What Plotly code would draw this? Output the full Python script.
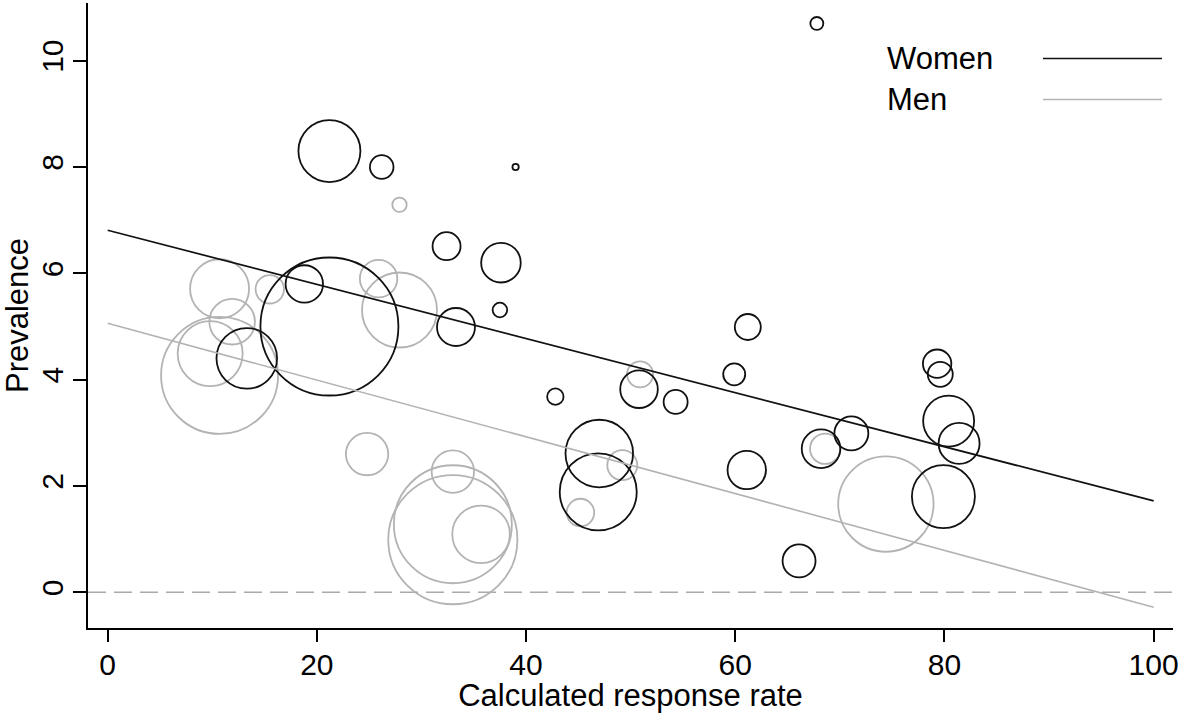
import plotly.graph_objects as go

# Study-level prevalence (%) by calculated response rate (%); circle area ~ study weight
women_rate = [21.2, 26.2, 39.0, 67.8, 32.4, 37.6, 37.5, 33.3, 18.8, 21.2, 13.3, 42.8, 50.8, 54.3,
              59.9, 61.2, 47.0, 46.9, 61.1, 66.1, 68.2, 71.1, 79.3, 79.6, 80.4, 81.4, 79.9]
women_prev = [8.30, 8.00, 8.00, 10.70, 6.51, 6.20, 5.31, 4.99, 5.80, 5.00, 4.40, 3.68, 3.82, 3.58,
              4.10, 4.99, 2.61, 1.89, 2.30, 0.59, 2.70, 2.99, 4.30, 4.10, 3.22, 2.80, 1.80]
women_weight = [961, 139, 10, 42, 196, 392, 53, 361, 350, 4761, 918, 67, 353, 144,
                121, 169, 1142, 1482, 369, 272, 372, 289, 202, 156, 650, 420, 992]

men_rate = [27.9, 10.7, 15.5, 11.9, 25.9, 27.9, 9.8, 10.7, 24.8, 33.0, 33.0, 33.0, 35.7,
            45.2, 49.2, 50.9, 68.6, 74.4]
men_prev = [7.29, 5.71, 5.70, 5.09, 5.90, 5.31, 4.49, 4.08, 2.60, 2.27, 1.28, 0.99, 1.09,
            1.50, 2.39, 4.10, 2.70, 1.66]
men_weight = [52, 870, 202, 520, 350, 1406, 1056, 3422, 449, 449, 3481, 4173, 829,
              190, 225, 169, 231, 2275]

# Fitted regression lines at the ends of the response-rate scale
fit_rate = [0, 100]
women_fit = [6.81, 1.72]
men_fit = [5.06, -0.28]

x_ticks = [0, 20, 40, 60, 80, 100]
y_ticks = [0, 2, 4, 6, 8, 10]

BLACK = "#111111"
GREY = "#b3b3b3"
FONT = "Liberation Sans, Arial, sans-serif"

fig = go.Figure()


def bubbles(x, y, w, colour):
    # sizemode "area": circle radius = sqrt(w / (2 * sizeref)) pixels
    return go.Scatter(
        x=x, y=y, mode="markers", showlegend=False, hoverinfo="skip",
        marker=dict(size=w, sizemode="area", sizeref=0.5, symbol="circle", opacity=1,
                    color="rgba(0,0,0,0)", line=dict(color=colour, width=1.8)),
    )


fig.add_trace(bubbles(men_rate, men_prev, men_weight, GREY))
fig.add_trace(bubbles(women_rate, women_prev, women_weight, BLACK))

fig.add_trace(go.Scatter(x=fit_rate, y=women_fit, mode="lines", showlegend=False,
                         line=dict(color=BLACK, width=1.7)))
fig.add_trace(go.Scatter(x=fit_rate, y=men_fit, mode="lines", showlegend=False,
                         line=dict(color=GREY, width=1.6)))

fig.add_hline(y=0, line=dict(color="#aaaaaa", width=1.6, dash="18px,8px"), layer="below")

# Legend: label on the left, line sample on the right
legend_items = [("Women", BLACK), ("Men", GREY)]
for i, (label, colour) in enumerate(legend_items):
    yc = 1 - (58.5 + 41 * i - 3) / 625
    fig.add_annotation(text=label, xref="paper", yref="paper", x=(885 - 88) / 1085, y=yc,
                       xanchor="left", yanchor="middle", showarrow=False,
                       font=dict(family=FONT, size=31, color="black"))
    fig.add_shape(type="line", xref="paper", yref="paper",
                  x0=(1043 - 88) / 1085, x1=(1162 - 88) / 1085, y0=yc, y1=yc,
                  line=dict(color=colour, width=1.6))

axis_common = dict(
    showgrid=False, zeroline=False, showline=True, linecolor="black", linewidth=1.8,
    ticks="outside", tickcolor="black", tickwidth=1.8,
    tickfont=dict(family=FONT, size=30, color="black"),
    title_font=dict(family=FONT, size=31, color="black"),
)

fig.update_xaxes(range=[-1.88, 101.85], tickvals=x_ticks, ticklen=12,
                 ticklabeloverflow="allow", ticklabelstandoff=-3,
                 title_text="Calculated response rate", title_standoff=9, **axis_common)
fig.update_yaxes(range=[-0.672, 11.085], tickvals=y_ticks, ticklen=13, tickangle=-90,
                 ticklabelstandoff=-2,
                 title_text="Prevalence", title_standoff=4, **axis_common)

fig.update_layout(
    width=1178, height=713,
    margin=dict(l=88, r=5, t=3, b=85, autoexpand=False),
    plot_bgcolor="white", paper_bgcolor="white",
    font=dict(family=FONT, color="black"),
)

fig.write_html("out.html")
